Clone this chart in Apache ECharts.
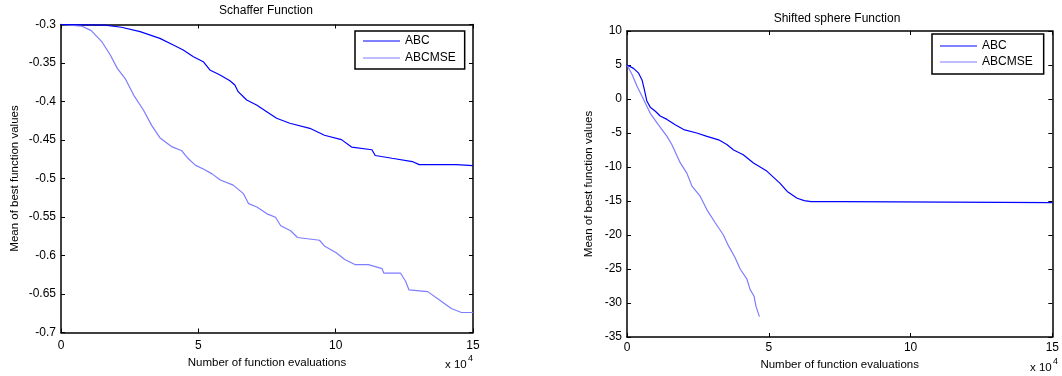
<!DOCTYPE html>
<html>
<head>
<meta charset="utf-8">
<script src="https://cdn.jsdelivr.net/npm/echarts@6/dist/echarts.min.js"></script>
<style>html,body{margin:0;padding:0;background:#fff;}#c{width:1062px;height:376px;}</style>
</head>
<body>
<div id="c"></div>
<script>
// ---- Data (x in units of 1e4 function evaluations) ----
const seriesNames = ['ABC', 'ABCMSE'];
const xTicks = [0, 5, 10, 15];

// Schaffer Function
const schafferAbcX = [0,1.6,2.2,2.88,3.6,4.09,4.45,4.82,5.18,5.42,5.79,6.15,6.33,6.45,6.76,7.12,7.49,7.85,8.33,9.06,9.59,10.21,10.58,11.32,11.44,12.05,12.79,13.04,14.39,15];
const schafferAbcY = [-0.3,-0.3009,-0.3036,-0.3093,-0.318,-0.3266,-0.3331,-0.3418,-0.3483,-0.359,-0.3656,-0.373,-0.3786,-0.3872,-0.398,-0.4045,-0.4132,-0.4218,-0.4283,-0.4348,-0.4438,-0.4495,-0.4592,-0.4627,-0.4701,-0.4737,-0.478,-0.482,-0.482,-0.4833];
const schafferMseX = [0,0.75,1.1,1.5,1.8,2.05,2.35,2.65,3.0,3.3,3.6,3.85,4.05,4.4,4.6,4.9,5.2,5.5,5.8,6.27,6.64,6.83,7.13,7.5,7.81,8.0,8.36,8.61,9.41,9.59,10.02,10.33,10.7,11.19,11.69,11.75,12.36,12.55,12.67,13.35,13.78,14.21,14.58,15];
const schafferMseY = [-0.3,-0.302,-0.308,-0.323,-0.340,-0.357,-0.371,-0.392,-0.411,-0.431,-0.447,-0.454,-0.459,-0.464,-0.473,-0.483,-0.488,-0.494,-0.502,-0.5086,-0.5196,-0.5327,-0.5371,-0.5459,-0.5503,-0.5613,-0.5679,-0.5766,-0.5802,-0.5876,-0.5964,-0.6052,-0.6118,-0.6118,-0.6171,-0.6228,-0.6228,-0.6337,-0.6447,-0.6469,-0.6579,-0.6689,-0.674,-0.674];

// Shifted sphere Function
const sphereAbcX = [0,0.23,0.41,0.53,0.61,0.7,0.82,1.0,1.17,1.41,1.7,2.0,2.46,2.82,3.23,3.52,3.76,4.1,4.46,4.93,5.4,5.65,6.0,6.25,6.49,7.62,7.68,15];
const sphereAbcY = [5,4.5,3.8,2.8,1.4,-0.3,-1.2,-1.8,-2.5,-3.0,-3.8,-4.5,-5.0,-5.5,-6.0,-6.7,-7.5,-8.2,-9.4,-10.6,-12.4,-13.6,-14.6,-14.95,-15.1,-15.1,-15.25,-15.25];
const sphereMseX = [0,0.18,0.35,0.59,0.82,1.11,1.41,1.58,1.88,2.11,2.29,2.58,2.82,3.11,3.4,3.58,3.81,3.99,4.23,4.34,4.48,4.55,4.67];
const sphereMseY = [5,3.6,1.9,-0.1,-2.1,-3.8,-5.5,-6.7,-9.4,-10.9,-12.8,-14.3,-16.3,-18.2,-20.0,-21.6,-23.3,-25.0,-26.5,-28.0,-29.0,-30.5,-32.0];

const schafferYTicks = [-0.7,-0.65,-0.6,-0.55,-0.5,-0.45,-0.4,-0.35,-0.3];
const sphereYTicks = [-35,-30,-25,-20,-15,-10,-5,0,5,10];

// ---- Styling ----
const FONT = '"Liberation Sans", Arial, sans-serif';
const C_ABC = '#0000ff';
const C_MSE = '#7d7dff';
const zip = (xs, ys) => xs.map((x, i) => [x, ys[i]]);

function xAx(grid, pos) {
  return {
    type: 'value', gridIndex: grid, position: pos,
    min: xTicks[0], max: xTicks[xTicks.length - 1], interval: xTicks[1] - xTicks[0],
    axisLine: { onZero: false, lineStyle: { color: '#000', width: 1.5 } },
    axisTick: { inside: true, length: 4, lineStyle: { color: '#000', width: 1 } },
    axisLabel: { show: pos === 'bottom', color: '#000', fontSize: 12, fontFamily: FONT, margin: grid === 0 ? 7 : 5 },
    splitLine: { show: false },
    name: pos === 'bottom' ? 'Number of function evaluations' : '',
    nameLocation: 'middle', nameGap: grid === 0 ? 21 : 22,
    nameTextStyle: { color: '#000', fontSize: 11.5, fontFamily: FONT }
  };
}
function yAx(grid, pos, ticks, fmt) {
  return {
    type: 'value', gridIndex: grid, position: pos,
    min: ticks[0], max: ticks[ticks.length - 1], interval: ticks[1] - ticks[0],
    axisLine: { onZero: false, lineStyle: { color: '#000', width: 1.5 } },
    axisTick: { inside: true, length: 4, lineStyle: { color: '#000', width: 1 } },
    axisLabel: { show: pos === 'left', color: '#000', fontSize: 12, fontFamily: FONT, margin: 5, formatter: fmt },
    splitLine: { show: false },
    name: pos === 'left' ? 'Mean of best function values' : '',
    nameLocation: 'middle', nameGap: grid === 0 ? 40 : 32,
    nameTextStyle: { color: '#000', fontSize: 11.5, fontFamily: FONT }
  };
}

const chart = echarts.init(document.getElementById('c'), null, { renderer: 'canvas' });
const option = {
  animation: false,
  backgroundColor: '#fff',
  grid: [
    { left: 61, right: 589, top: 24.5, bottom: 43.5 },
    { left: 627, right: 9, top: 31, bottom: 39 }
  ],
  xAxis: [xAx(0, 'bottom'), xAx(0, 'top'), xAx(1, 'bottom'), xAx(1, 'top')],
  yAxis: [
    yAx(0, 'left', schafferYTicks, v => String(+v.toFixed(2))),
    yAx(0, 'right', schafferYTicks, v => String(+v.toFixed(2))),
    yAx(1, 'left', sphereYTicks, v => String(Math.round(v))),
    yAx(1, 'right', sphereYTicks, v => String(Math.round(v)))
  ],
  legend: [
    {
      data: seriesNames, orient: 'vertical', left: 355, top: 31,
      icon: 'rect', itemWidth: 37, itemHeight: 1, itemGap: 3,
      padding: [3, 9, 4, 8], borderColor: '#000', borderWidth: 1.5,
      backgroundColor: '#fff',
      textStyle: { color: '#000', fontSize: 12, fontFamily: FONT, lineHeight: 14 },
      selectedMode: false
    },
    {
      data: seriesNames, orient: 'vertical', left: 932, top: 34,
      icon: 'rect', itemWidth: 37, itemHeight: 1, itemGap: 2,
      padding: [5, 11, 5, 8], borderColor: '#000', borderWidth: 1.5,
      backgroundColor: '#fff',
      textStyle: { color: '#000', fontSize: 12, fontFamily: FONT, lineHeight: 14 },
      selectedMode: false
    }
  ],
  series: [
    { name: seriesNames[0], type: 'line', xAxisIndex: 0, yAxisIndex: 0, data: zip(schafferAbcX, schafferAbcY),
      showSymbol: false, symbol: 'none', color: C_ABC, lineStyle: { color: C_ABC, width: 1.2 }, z: 3 },
    { name: seriesNames[1], type: 'line', xAxisIndex: 0, yAxisIndex: 0, data: zip(schafferMseX, schafferMseY),
      showSymbol: false, symbol: 'none', color: C_MSE, lineStyle: { color: C_MSE, width: 1.2 }, z: 2 },
    { name: seriesNames[0], type: 'line', xAxisIndex: 2, yAxisIndex: 2, data: zip(sphereAbcX, sphereAbcY),
      showSymbol: false, symbol: 'none', color: C_ABC, lineStyle: { color: C_ABC, width: 1.2 }, z: 3 },
    { name: seriesNames[1], type: 'line', xAxisIndex: 2, yAxisIndex: 2, data: zip(sphereMseX, sphereMseY),
      showSymbol: false, symbol: 'none', color: C_MSE, lineStyle: { color: C_MSE, width: 1.2 }, z: 2 }
  ],
  graphic: [
    { type: 'text', x: 266, y: 11, style: { text: 'Schaffer Function', fill: '#000', font: '12px ' + FONT, align: 'center', verticalAlign: 'middle' } },
    { type: 'text', x: 837, y: 18.5, style: { text: 'Shifted sphere Function', fill: '#000', font: '12px ' + FONT, align: 'center', verticalAlign: 'middle' } },
    { type: 'text', x: 445, y: 364.5, style: { text: 'x 10', fill: '#000', font: '11.5px ' + FONT, align: 'left', verticalAlign: 'middle' } },
    { type: 'text', x: 468, y: 359, style: { text: '4', fill: '#000', font: '9px ' + FONT, align: 'left', verticalAlign: 'middle' } },
    { type: 'text', x: 1030, y: 368, style: { text: 'x 10', fill: '#000', font: '11.5px ' + FONT, align: 'left', verticalAlign: 'middle' } },
    { type: 'text', x: 1053, y: 362, style: { text: '4', fill: '#000', font: '9px ' + FONT, align: 'left', verticalAlign: 'middle' } }
  ]
};
chart.setOption(option);
</script>
</body>
</html>
